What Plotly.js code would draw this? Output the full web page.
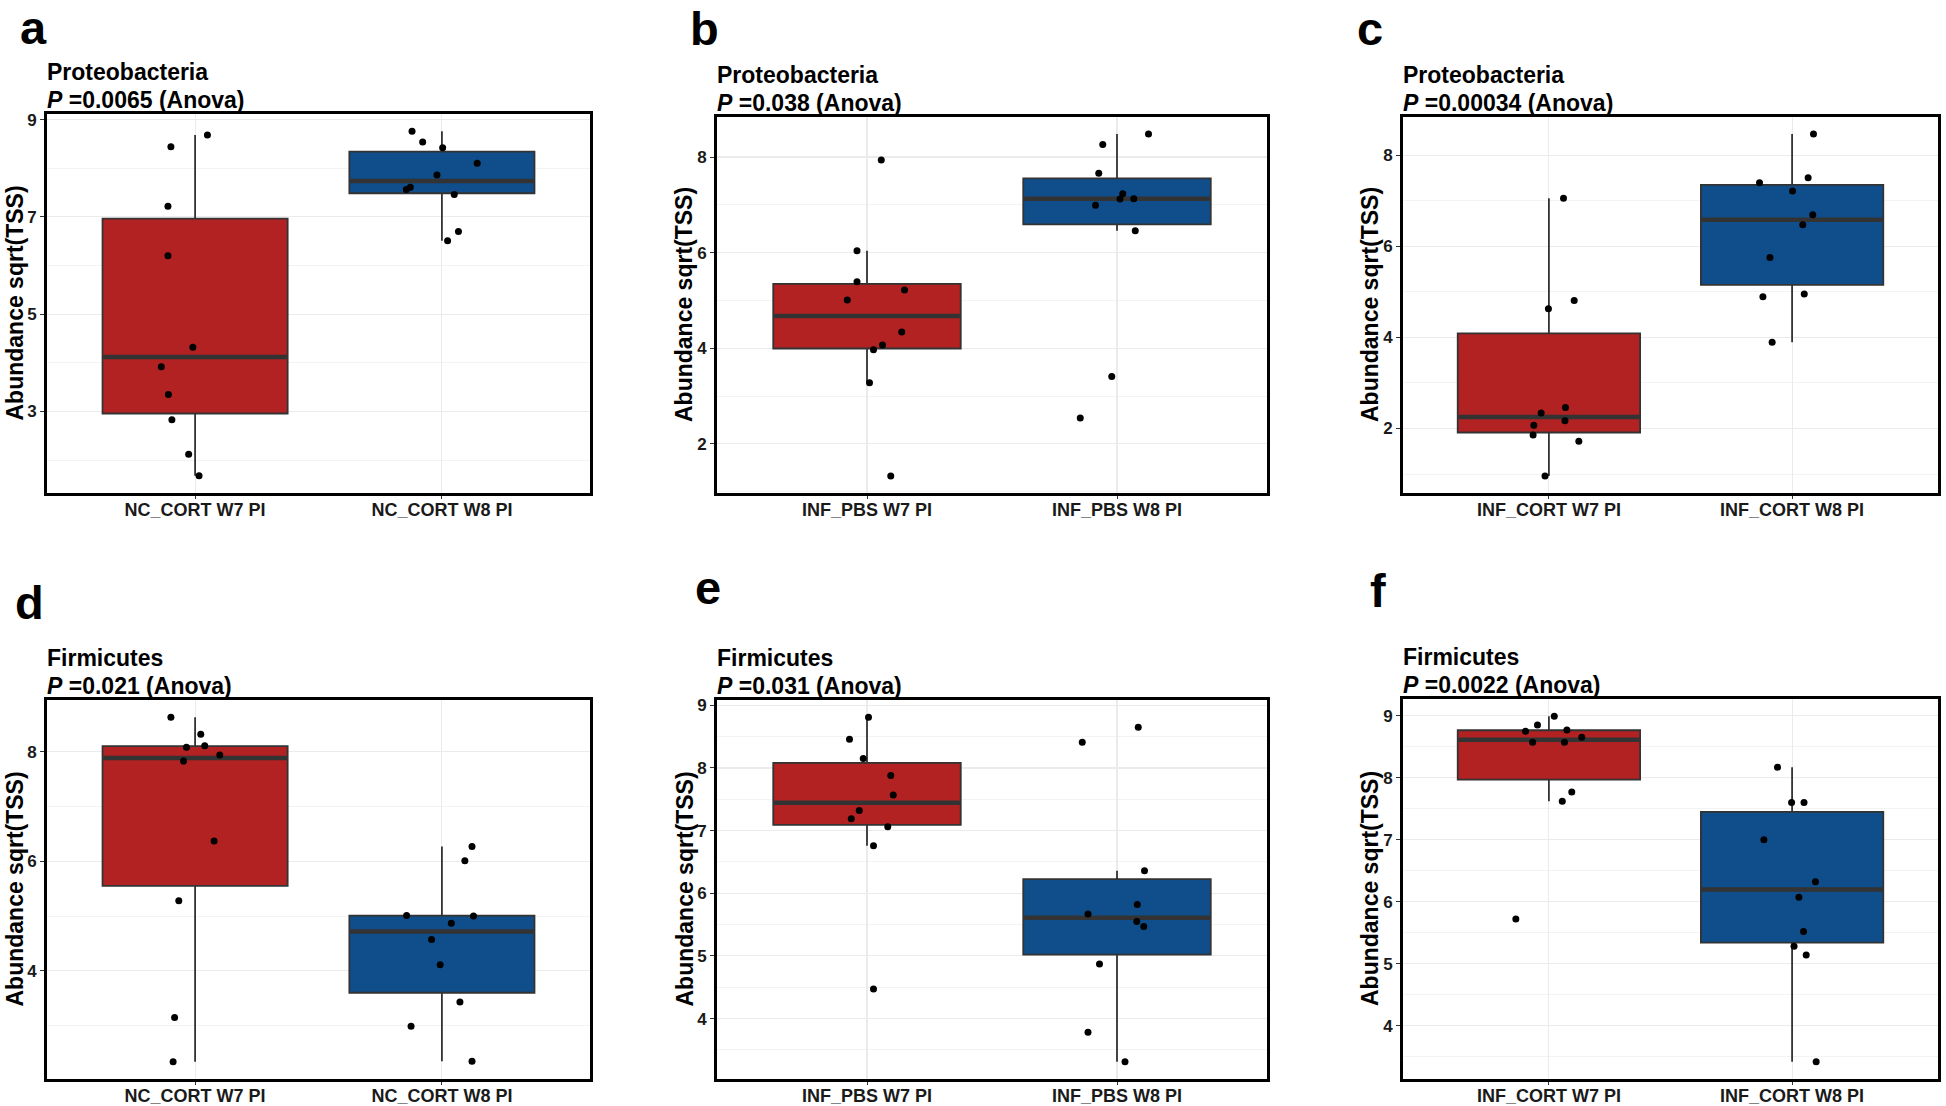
<!DOCTYPE html>
<html>
<head>
<meta charset="utf-8">
<script src="https://cdn.plot.ly/plotly-3.0.1.min.js"></script>
<style>
  html, body { margin: 0; padding: 0; background: #fff; }
  #plot { width: 1946px; height: 1106px; }
</style>
</head>
<body>
<div id="plot"></div>
<script>
// panel letters, titles and group names
var panelLetters = ['a', 'b', 'c', 'd', 'e', 'f'];
var phyla = ['Proteobacteria', 'Proteobacteria', 'Proteobacteria', 'Firmicutes', 'Firmicutes', 'Firmicutes'];
var pValues = ['0.0065', '0.038', '0.00034', '0.021', '0.031', '0.0022'];
var groupNames = [
  ['NC_CORT W7 PI', 'NC_CORT W8 PI'],
  ['INF_PBS W7 PI', 'INF_PBS W8 PI'],
  ['INF_CORT W7 PI', 'INF_CORT W8 PI'],
  ['NC_CORT W7 PI', 'NC_CORT W8 PI'],
  ['INF_PBS W7 PI', 'INF_PBS W8 PI'],
  ['INF_CORT W7 PI', 'INF_CORT W8 PI']
];

// abundance sqrt(TSS) per sample
var aW7 = [8.68, 8.44, 7.22, 6.20, 4.32, 3.92, 3.35, 2.83, 2.12, 1.68];
var aW8 = [8.76, 8.54, 8.42, 8.10, 7.86, 7.61, 7.56, 7.46, 6.70, 6.51];
var bW7 = [7.94, 6.04, 5.39, 5.22, 5.01, 4.34, 4.07, 3.97, 3.28, 1.33];
var bW8 = [8.48, 8.26, 7.66, 7.23, 7.12, 7.13, 6.99, 6.46, 3.41, 2.54];
var cW7 = [7.05, 4.63, 4.81, 2.46, 2.34, 2.17, 2.07, 1.86, 1.72, 0.96];
var cW8 = [8.46, 7.50, 7.39, 7.21, 6.69, 6.47, 5.75, 4.89, 4.95, 3.89];
var dW7 = [8.63, 8.32, 8.11, 8.08, 7.94, 7.83, 6.37, 5.28, 3.15, 2.34];
var dW8 = [6.27, 6.01, 5.01, 5.00, 4.87, 4.57, 4.11, 3.43, 2.99, 2.35];
var eW7 = [8.81, 8.46, 8.15, 7.88, 7.57, 7.32, 7.19, 7.06, 6.76, 4.47];
var eW8 = [8.65, 8.41, 6.36, 5.82, 5.67, 5.55, 5.47, 4.87, 3.78, 3.31];
var fW7 = [8.99, 8.85, 8.75, 8.77, 8.65, 8.57, 8.57, 7.77, 7.62, 5.72];
var fW8 = [8.17, 7.60, 7.60, 7.00, 6.32, 6.07, 5.52, 5.28, 5.14, 3.42];

// horizontal jitter of each point (category units)
var aW7j = [0.050, -0.098, -0.110, -0.110, -0.009, -0.137, -0.108, -0.094, -0.026, 0.016];
var aW8j = [-0.121, -0.078, 0.003, 0.143, -0.020, -0.128, -0.144, 0.050, 0.067, 0.023];
var bW7j = [0.057, -0.040, -0.040, 0.150, -0.079, 0.139, 0.062, 0.026, 0.010, 0.095];
var bW8j = [0.126, -0.057, -0.073, 0.023, 0.012, 0.067, -0.086, 0.073, -0.021, -0.147];
var cW7j = [0.060, -0.002, 0.104, 0.068, -0.032, 0.066, -0.062, -0.065, 0.123, -0.016];
var cW8j = [0.088, 0.066, -0.134, 0.002, 0.085, 0.044, -0.091, -0.120, 0.050, -0.082];
var dW7j = [-0.098, 0.023, 0.039, -0.035, 0.100, -0.047, 0.077, -0.066, -0.083, -0.089];
var dW8j = [0.122, 0.093, -0.143, 0.128, 0.038, -0.042, -0.007, 0.073, -0.125, 0.122];
var eW7j = [0.006, -0.070, -0.015, 0.095, 0.105, -0.031, -0.063, 0.083, 0.026, 0.026];
var eW8j = [0.085, -0.139, 0.110, 0.081, -0.116, 0.079, 0.107, -0.070, -0.116, 0.032];
var fW7j = [0.022, -0.047, -0.096, 0.074, 0.135, -0.067, 0.064, 0.094, 0.055, -0.136];
var fW8j = [-0.060, -0.002, 0.049, -0.116, 0.096, 0.028, 0.047, 0.008, 0.058, 0.099];

var values = [[aW7, aW8], [bW7, bW8], [cW7, cW8], [dW7, dW8], [eW7, eW8], [fW7, fW8]];
var jitters = [[aW7j, aW8j], [bW7j, bW8j], [cW7j, cW8j], [dW7j, dW8j], [eW7j, eW8j], [fW7j, fW8j]];

// y tick spacing for each panel
var yTick0 = [1, 0, 0, 0, 0, 0];
var yDtick = [2, 2, 2, 2, 1, 1];

var W = 1946, H = 1106;
var fontFam = 'Liberation Sans, Arial, Helvetica, sans-serif';
var fills = ['#B22222', '#104E8B'];
var boxW = 0.75;

// plot area edges in pixels
var plotLeft = [47, 717, 1403, 47, 717, 1403];
var plotRight = [590, 1267, 1938, 590, 1267, 1938];
var plotTop = [114, 117, 117, 700, 700, 699];
var plotBottom = [493, 493, 493, 1079, 1079, 1079];
// letter box top-left corners (px)
var letterPos = [[19, 0], [689, 1], [1356, 1], [14, 575], [694, 560], [1369, 563]];

// R type 7 quantile
function quant(sorted, p) {
  var h = (sorted.length - 1) * p;
  var lo = Math.floor(h);
  var hi = Math.min(lo + 1, sorted.length - 1);
  return sorted[lo] + (h - lo) * (sorted[hi] - sorted[lo]);
}

function boxStats(arr) {
  var s = arr.slice().sort(function(a, b) { return a - b; });
  var q1 = quant(s, 0.25), med = quant(s, 0.5), q3 = quant(s, 0.75);
  var iqr = q3 - q1;
  var lo = s.filter(function(v) { return v >= q1 - 1.5 * iqr; });
  var hi = s.filter(function(v) { return v <= q3 + 1.5 * iqr; });
  return {q1: q1, med: med, q3: q3, lf: lo[0], uf: hi[hi.length - 1]};
}

var traces = [];
var layout = {
  width: W, height: H,
  margin: {l: 0, r: 0, t: 0, b: 0},
  paper_bgcolor: '#fff', plot_bgcolor: '#fff',
  showlegend: false,
  annotations: []
};

for (var i = 0; i < 6; i++) {
  var sfx = i === 0 ? '' : String(i + 1);
  var xa = 'x' + sfx, ya = 'y' + sfx;
  var all = [];

  for (var g = 0; g < 2; g++) {
    var vals = values[i][g];
    var st = boxStats(vals);
    all = all.concat(vals);

    traces.push({
      type: 'box', x: [g], q1: [st.q1], median: [st.med], q3: [st.q3],
      lowerfence: [st.lf], upperfence: [st.uf],
      width: boxW, whiskerwidth: 0, fillcolor: fills[g], boxpoints: false,
      line: {color: '#333333', width: 1.8},
      hoverinfo: 'skip', xaxis: xa, yaxis: ya
    });
    // thick median bar like ggplot
    traces.push({
      type: 'scatter', mode: 'lines',
      x: [g - boxW / 2 + 0.004, g + boxW / 2 - 0.004], y: [st.med, st.med],
      line: {color: '#333333', width: 4.5},
      hoverinfo: 'skip', xaxis: xa, yaxis: ya
    });
    traces.push({
      type: 'scatter', mode: 'markers',
      x: jitters[i][g].map(function(d) { return g + d; }), y: vals,
      marker: {color: '#000', size: 7},
      xaxis: xa, yaxis: ya
    });
  }

  var mn = Math.min.apply(null, all), mx = Math.max.apply(null, all);
  var pad = (mx - mn) * 0.05;

  layout['xaxis' + sfx] = {
    domain: [plotLeft[i] / W, plotRight[i] / W], anchor: ya,
    range: [-0.6, 1.6], tickvals: [0, 1], ticktext: groupNames[i],
    showgrid: true, gridcolor: '#EBEBEB', gridwidth: 1.1, zeroline: false,
    showline: true, mirror: true, linecolor: '#000', linewidth: 3,
    ticks: 'outside', ticklen: 3, tickcolor: '#333', tickwidth: 1,
    ticklabelstandoff: -5,
    tickfont: {family: fontFam, size: 18, color: '#1a1a1a', weight: 'bold'},
    fixedrange: true
  };
  layout['yaxis' + sfx] = {
    domain: [1 - plotBottom[i] / H, 1 - plotTop[i] / H], anchor: xa,
    range: [mn - pad, mx + pad], tick0: yTick0[i], dtick: yDtick[i],
    showgrid: true, gridcolor: '#EBEBEB', gridwidth: 1.1, zeroline: false,
    minor: {tick0: yTick0[i], dtick: yDtick[i] / 2, showgrid: true, gridcolor: '#EBEBEB', gridwidth: 0.6},
    showline: true, mirror: true, linecolor: '#000', linewidth: 3,
    ticks: 'outside', ticklen: 4, tickcolor: '#333', tickwidth: 1,
    tickfont: {family: fontFam, size: 17, color: '#1a1a1a', weight: 'bold'},
    fixedrange: true
  };

  // panel letter
  layout.annotations.push({
    xref: 'paper', yref: 'paper', showarrow: false,
    x: letterPos[i][0] / W, y: 1 - letterPos[i][1] / H,
    xanchor: 'left', yanchor: 'top', borderpad: 0,
    text: '<b>' + panelLetters[i] + '</b>',
    font: {family: fontFam, size: 47, color: '#000'}
  });
  // two-line title
  layout.annotations.push({
    xref: 'paper', yref: 'paper', showarrow: false,
    x: (plotLeft[i] - 2) / W, y: 1 - (plotTop[i] - 32 + 5) / H,
    xanchor: 'left', yanchor: 'bottom',
    text: '<b>' + phyla[i] + '</b>',
    font: {family: fontFam, size: 23, color: '#000'}
  });
  layout.annotations.push({
    xref: 'paper', yref: 'paper', showarrow: false,
    x: (plotLeft[i] - 2) / W, y: 1 - (plotTop[i] - 4 + 5) / H,
    xanchor: 'left', yanchor: 'bottom',
    text: '<b><i>P</i> =' + pValues[i] + ' (Anova)</b>',
    font: {family: fontFam, size: 23, color: '#000'}
  });
  // y axis title
  layout.annotations.push({
    xref: 'paper', yref: 'paper', showarrow: false,
    x: (plotLeft[i] - 33) / W, y: 1 - (plotTop[i] + plotBottom[i]) / 2 / H,
    xanchor: 'center', yanchor: 'middle', textangle: -90,
    text: '<b>Abundance sqrt(TSS)</b>',
    font: {family: fontFam, size: 23, color: '#000'}
  });
}

Plotly.newPlot('plot', traces, layout, {displayModeBar: false, staticPlot: true});
</script>
</body>
</html>
